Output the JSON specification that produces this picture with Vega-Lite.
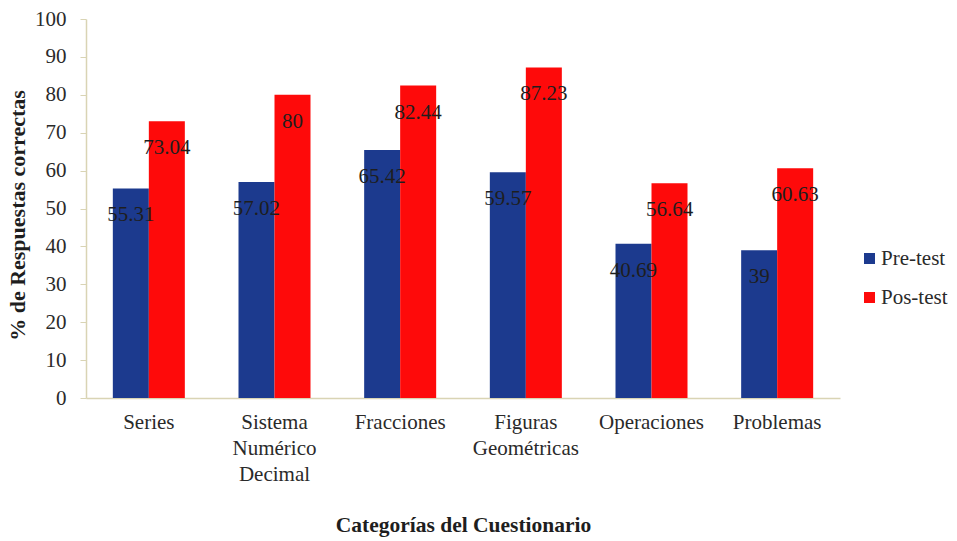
{
  "$schema": "https://vega.github.io/schema/vega-lite/v6.json",
  "width": 754,
  "height": 379,
  "autosize": {"type": "none"},
  "padding": {"left": 86, "top": 19, "right": 117, "bottom": 143},
  "background": "white",
  "config": {
    "view": {"stroke": null},
    "font": "Liberation Serif",
    "text": {"font": "Liberation Serif"}
  },
  "data": {
    "values": [
      {"categoria": "Series", "prueba": "Pre-test", "valor": 55.31, "etiqueta": "55.31"},
      {"categoria": "Series", "prueba": "Pos-test", "valor": 73.04, "etiqueta": "73.04"},
      {"categoria": "Sistema Numérico Decimal", "prueba": "Pre-test", "valor": 57.02, "etiqueta": "57.02"},
      {"categoria": "Sistema Numérico Decimal", "prueba": "Pos-test", "valor": 80, "etiqueta": "80"},
      {"categoria": "Fracciones", "prueba": "Pre-test", "valor": 65.42, "etiqueta": "65.42"},
      {"categoria": "Fracciones", "prueba": "Pos-test", "valor": 82.44, "etiqueta": "82.44"},
      {"categoria": "Figuras Geométricas", "prueba": "Pre-test", "valor": 59.57, "etiqueta": "59.57"},
      {"categoria": "Figuras Geométricas", "prueba": "Pos-test", "valor": 87.23, "etiqueta": "87.23"},
      {"categoria": "Operaciones", "prueba": "Pre-test", "valor": 40.69, "etiqueta": "40.69"},
      {"categoria": "Operaciones", "prueba": "Pos-test", "valor": 56.64, "etiqueta": "56.64"},
      {"categoria": "Problemas", "prueba": "Pre-test", "valor": 39, "etiqueta": "39"},
      {"categoria": "Problemas", "prueba": "Pos-test", "valor": 60.63, "etiqueta": "60.63"}
    ]
  },
  "encoding": {
    "x": {
      "field": "categoria",
      "type": "nominal",
      "sort": null,
      "scale": {"paddingInner": 0.427, "paddingOuter": 0.2135},
      "axis": {
        "title": "Categorías del Cuestionario",
        "titleFont": "Liberation Serif",
        "titleFontSize": 21.5,
        "titleFontWeight": "bold",
        "titleColor": "#1e1e1e",
        "titleY": 127,
        "titleBaseline": "middle",
        "labelAngle": 0,
        "labelExpr": "split(datum.label, ' ')",
        "labelFont": "Liberation Serif",
        "labelFontSize": 21,
        "labelColor": "#2a2a2a",
        "labelLineHeight": 26,
        "labelPadding": 13,
        "labelBaseline": "top",
        "ticks": false,
        "domainColor": "#d9d4b4",
        "domainWidth": 1.5,
        "grid": false
      }
    },
    "xOffset": {"field": "prueba", "type": "nominal", "sort": ["Pre-test", "Pos-test"], "scale": {"paddingInner": 0}},
    "y": {
      "field": "valor",
      "type": "quantitative",
      "scale": {"domain": [0, 100], "nice": false},
      "axis": {
        "title": "% de Respuestas correctas",
        "titleFont": "Liberation Serif",
        "titleFontSize": 22,
        "titleFontWeight": "bold",
        "titleColor": "#1e1e1e",
        "titleX": -69,
        "titleY": 196,
        "titleAngle": -90,
        "titleAlign": "center",
        "titleBaseline": "middle",
        "values": [0, 10, 20, 30, 40, 50, 60, 70, 80, 90, 100],
        "labelFont": "Liberation Serif",
        "labelFontSize": 21,
        "labelColor": "#2a2a2a",
        "labelPadding": 14,
        "tickSize": 6,
        "tickColor": "#d9d4b4",
        "domainColor": "#d9d4b4",
        "domainWidth": 1.5,
        "grid": false
      }
    }
  },
  "layer": [
    {
      "mark": {"type": "bar"},
      "encoding": {
        "color": {
          "field": "prueba",
          "type": "nominal",
          "sort": ["Pre-test", "Pos-test"],
          "scale": {"domain": ["Pre-test", "Pos-test"], "range": ["#1c3a8e", "#fe0a0a"]},
          "legend": {
            "title": null,
            "orient": "none",
            "legendX": 773,
            "legendY": 229,
            "symbolType": "square",
            "symbolSize": 121,
            "symbolStrokeWidth": 0,
            "labelFont": "Liberation Serif",
            "labelFontSize": 21,
            "labelColor": "#2a2a2a",
            "labelOffset": 1,
            "rowPadding": 17
          }
        }
      }
    },
    {
      "mark": {"type": "text", "baseline": "middle", "align": "center", "dy": 27, "fontSize": 21, "color": "#1e1e1e", "font": "Liberation Serif"},
      "encoding": {
        "text": {"field": "etiqueta"}
      }
    }
  ]
}
